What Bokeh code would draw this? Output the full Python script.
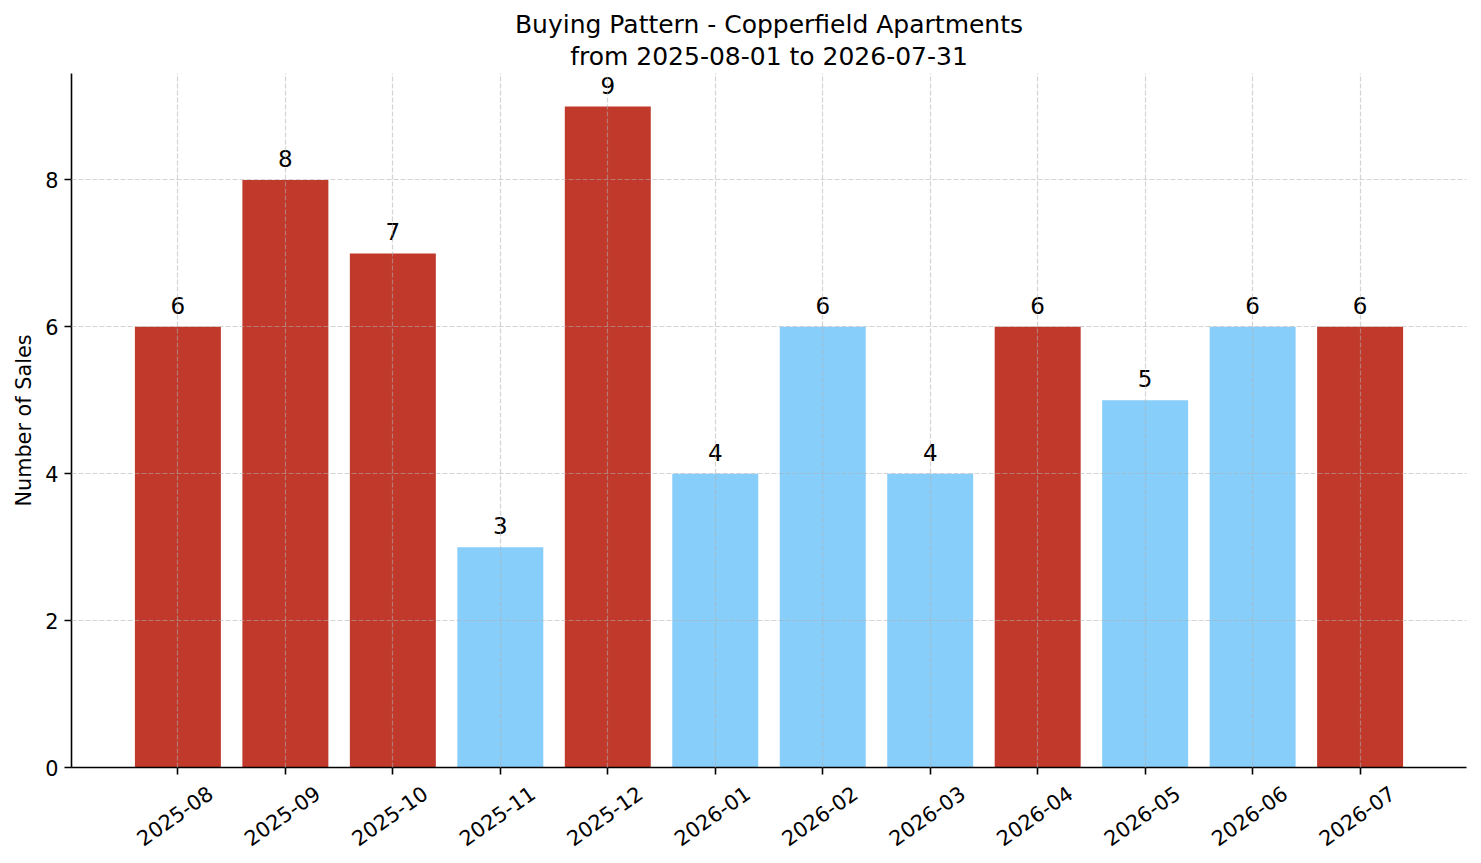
import math

from bokeh.core.properties import value
from bokeh.embed import file_html
from bokeh.models import ColumnDataSource, FixedTicker, LinearAxis, Range1d, Title
from bokeh.plotting import figure
from bokeh.resources import INLINE

# ---------------------------------------------------------------------------
# Data
# ---------------------------------------------------------------------------
months = ["2025-08", "2025-09", "2025-10", "2025-11", "2025-12", "2026-01",
          "2026-02", "2026-03", "2026-04", "2026-05", "2026-06", "2026-07"]
sales = [6, 8, 7, 3, 9, 4, 6, 4, 6, 5, 6, 6]
highlighted = [True, True, True, False, True, False,
               False, False, True, False, False, True]

title_line1 = "Buying Pattern - Copperfield Apartments"
title_line2 = "from 2025-08-01 to 2026-07-31"

RED = "#c0392b"
BLUE = "#87cefa"
FONT = "DejaVu Sans"
LABEL_SHIFT = 0.30   # bokeh anchors rotated labels at their end; shift so they sit centred

# ---------------------------------------------------------------------------
# Figure
# ---------------------------------------------------------------------------
idx = list(range(len(months)))
source = ColumnDataSource(data=dict(
    x=idx,
    sales=sales,
    label=[str(v) for v in sales],
    color=[RED if h else BLUE for h in highlighted],
))

x_lo, x_hi = -0.99, len(months) - 1 + 0.99
p = figure(
    width=1473, height=860, title=None,
    x_range=Range1d(x_lo, x_hi),
    y_range=Range1d(0, max(sales) * 1.05),
    output_backend="svg", toolbar_location=None,
    min_border_left=71, min_border_right=7,
    min_border_top=73, min_border_bottom=93,
)

# second title line as the label of a bare axis above, first line as a Title
subtitle_axis = LinearAxis(ticker=FixedTicker(ticks=[]),
                           axis_label=title_line2,
                           axis_label_standoff=3,
                           axis_label_text_font=FONT,
                           axis_label_text_font_size="25px",
                           axis_label_text_font_style="normal",
                           axis_label_text_color="black",
                           axis_line_color=None,
                           major_tick_line_color=None,
                           minor_tick_line_color=None,
                           major_tick_out=0, major_label_standoff=0,
                           major_label_text_color=None,
                           major_label_text_font_size="1px")
p.add_layout(subtitle_axis, "above")
p.add_layout(Title(text=title_line1, align="center", text_font=FONT,
                   text_font_size="25px", text_font_style="normal",
                   text_color="black", standoff=0), "above")

p.vbar(x="x", top="sales", width=0.8, source=source,
       fill_color="color", line_color=None)
p.text(x="x", y="sales", text="label", source=source,
       text_align="center", text_baseline="bottom", y_offset=-13,
       text_font=value(FONT), text_font_size="23px", text_color="black")

# ---------------------------------------------------------------------------
# Axes — ticks on the main axis, month labels on a shifted label-only axis
# ---------------------------------------------------------------------------
p.outline_line_color = None
p.background_fill_color = "white"

xaxis = p.below[0]
xaxis.ticker = FixedTicker(ticks=idx)
xaxis.major_label_text_color = None
xaxis.major_label_text_font_size = "1px"
xaxis.major_label_standoff = 0

p.extra_x_ranges = {"labels": Range1d(x_lo - LABEL_SHIFT, x_hi - LABEL_SHIFT)}
label_axis = LinearAxis(x_range_name="labels",
                        ticker=FixedTicker(ticks=idx),
                        major_label_overrides={i: m for i, m in zip(idx, months)},
                        major_label_orientation=math.radians(35),
                        major_label_standoff=10,
                        major_label_text_font=FONT,
                        major_label_text_font_size="20.8px",
                        major_label_text_color="black",
                        axis_line_color=None,
                        major_tick_line_color=None,
                        minor_tick_line_color=None)
p.add_layout(label_axis, "below")

yaxis = p.yaxis[0]
yaxis.ticker = FixedTicker(ticks=[0, 2, 4, 6, 8])
yaxis.axis_label = "Number of Sales"
yaxis.major_label_text_font = FONT
yaxis.major_label_text_font_size = "20.8px"
yaxis.major_label_text_color = "black"
yaxis.major_label_standoff = 6
yaxis.axis_label_text_font = FONT
yaxis.axis_label_text_font_size = "20.8px"
yaxis.axis_label_text_font_style = "normal"
yaxis.axis_label_text_color = "black"
yaxis.axis_label_standoff = 6

for ax in (xaxis, yaxis):
    ax.axis_line_color = "black"
    ax.axis_line_width = 1.6
    ax.major_tick_line_color = "black"
    ax.major_tick_line_width = 1.6
    ax.major_tick_in = 0
    ax.major_tick_out = 7
    ax.minor_tick_line_color = None

p.grid.grid_line_color = "#b0b0b0"
p.grid.grid_line_alpha = 0.55
p.grid.grid_line_width = 1.2
p.grid.grid_line_dash = "5 2"
p.grid.level = "overlay"

open("out.html", "w").write(file_html(p, INLINE))
